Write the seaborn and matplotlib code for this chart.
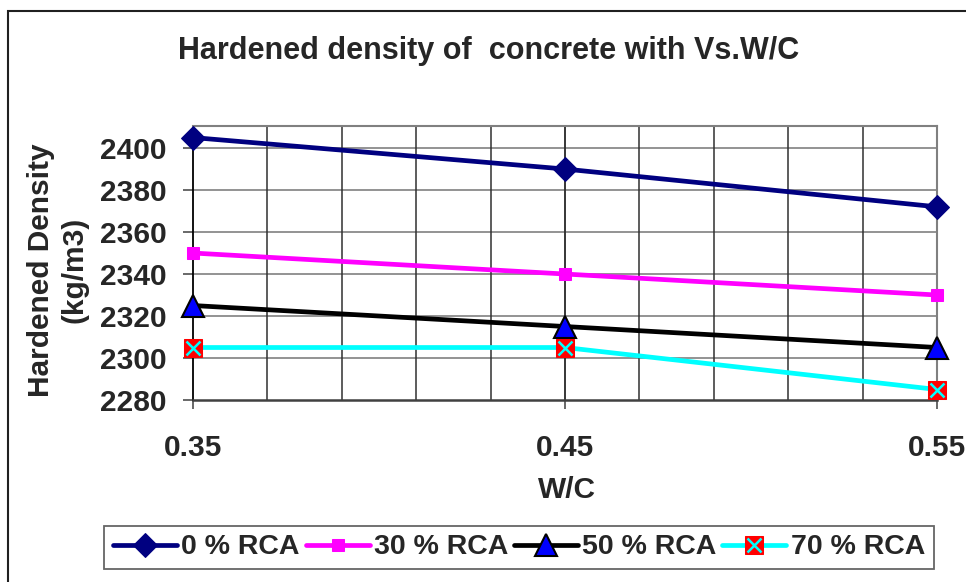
import matplotlib
matplotlib.use("Agg")
import matplotlib.pyplot as plt
import seaborn as sns
import numpy as np
import pandas as pd
from matplotlib.patches import Rectangle
from matplotlib.legend_handler import HandlerTuple

# ---- data ----
wc = [0.35, 0.45, 0.55]
rca0 = [2405, 2390, 2372]
rca30 = [2350, 2340, 2330]
rca50 = [2325, 2315, 2305]
rca70 = [2305, 2305, 2285]
series_labels = ["0 % RCA", "30 % RCA", "50 % RCA", "70 % RCA"]
y_ticks = [2280, 2300, 2320, 2340, 2360, 2380, 2400]
x_ticks = [0.35, 0.45, 0.55]
x_tick_labels = ["0.35", "0.45", "0.55"]

sns.set_theme(style="white")
plt.rcParams['font.family'] = ['Liberation Sans', 'DejaVu Sans']
plt.rcParams['font.weight'] = 'bold'

W, H = 966, 582
fig = plt.figure(figsize=(W / 100, H / 100), dpi=100)
fig.patch.set_facecolor("white")

L, R, T, B = 193, 937, 126, 400
ax = fig.add_axes([L / W, 1 - B / H, (R - L) / W, (B - T) / H])
ax.set_facecolor("white")

FS = 21.5
lw = 3.4

sns.lineplot(x=wc, y=rca0, ax=ax, color="#000080", lw=lw, marker="D",
             markersize=12.5, markeredgecolor="#000080", label=series_labels[0],
             zorder=5, clip_on=False)
sns.lineplot(x=wc, y=rca30, ax=ax, color="#FF00FF", lw=lw, marker="s",
             markersize=8.5, markeredgecolor="#FF00FF", label=series_labels[1],
             zorder=5, clip_on=False)
sns.lineplot(x=wc, y=rca50, ax=ax, color="#000000", lw=lw, marker="^",
             markersize=16.5, markerfacecolor="#0000FF", markeredgecolor="#000000",
             markeredgewidth=1.5, label=series_labels[2], zorder=5, clip_on=False)
sns.lineplot(x=wc, y=rca70, ax=ax, color="#00FFFF", lw=lw, marker="s",
             markersize=12.5, markerfacecolor="#FF0000", markeredgecolor="#FF0000",
             label=series_labels[3], zorder=5, clip_on=False)
sns.lineplot(x=wc, y=rca70, ax=ax, color="#00FFFF", linestyle="", marker="x",
             markersize=9.5, markeredgewidth=1.8, markeredgecolor="#00FFFF",
             label="_x", zorder=6, clip_on=False)
leg0 = ax.get_legend()
if leg0 is not None:
    leg0.remove()

ax.set_xlim(0.35, 0.55)
ax.set_ylim(2280, 2410.5)
ax.set_yticks(y_ticks)
ax.set_yticklabels([str(v) for v in y_ticks])
ax.set_xticks(x_ticks)
ax.set_xticklabels(x_tick_labels)
minor = np.arange(0.37, 0.55, 0.02)
ax.set_xticks(minor, minor=True)

ax.grid(False)
for v in y_ticks[1:]:
    ax.axhline(v, color="#808080", lw=1.2, zorder=1)
for v in list(minor) + [0.45]:
    ax.axvline(v, color="#303030", lw=1.1, zorder=1)

ax.tick_params(axis="y", which="major", direction="out", length=7, width=1.1,
               color="#404040", pad=12, labelsize=FS, left=True)
ax.tick_params(axis="x", which="major", direction="out", length=6.5, width=1.1,
               color="#404040", pad=18, labelsize=FS, bottom=True)
ax.tick_params(axis="x", which="minor", length=0)
for lab in ax.get_xticklabels() + ax.get_yticklabels():
    lab.set_fontweight("bold")

for s in ["top", "right"]:
    ax.spines[s].set_color("#808080")
    ax.spines[s].set_linewidth(1.5)
ax.spines["left"].set_color("#000000")
ax.spines["left"].set_linewidth(1.3)
ax.spines["bottom"].set_color("#404040")
ax.spines["bottom"].set_linewidth(1.8)

ax.set_xlabel("")
ax.set_ylabel("")

fig.text(489 / W, 1 - 59 / H, "Hardened density of  concrete with Vs.W/C",
         ha="center", va="baseline", fontsize=22, fontweight="bold")
fig.text(567 / W, 1 - 498 / H, "W/C", ha="center", va="baseline",
         fontsize=FS, fontweight="bold")
fig.text(58 / W, 1 - 270 / H, "Hardened Density\n(kg/m3)", ha="center", va="center",
         rotation=90, multialignment="center", linespacing=1.25,
         fontsize=FS, fontweight="bold")

lines = ax.get_lines()
h0, h30, h50, h70, hx = lines[0], lines[1], lines[2], lines[3], lines[4]
leg = fig.legend([h0, h30, h50, (h70, hx)], series_labels,
                 loc="center", bbox_to_anchor=(519 / W, 1 - 547.5 / H),
                 ncol=4, fontsize=20.5, frameon=True, fancybox=False,
                 handlelength=2.25, handletextpad=0.15, columnspacing=0.2,
                 borderpad=0.3, borderaxespad=0,
                 handler_map={tuple: HandlerTuple(ndivide=1)})
leg.get_frame().set_edgecolor("#404040")
leg.get_frame().set_linewidth(1.3)
for t in leg.get_texts():
    t.set_fontweight("bold")

border = Rectangle((8 / W, -0.2), 1.2, 1 - 11 / H + 0.2, transform=fig.transFigure,
                   fill=False, edgecolor="#202020", lw=1.5, clip_on=False)
fig.add_artist(border)

fig.savefig("out.png", dpi=100, facecolor="white")
